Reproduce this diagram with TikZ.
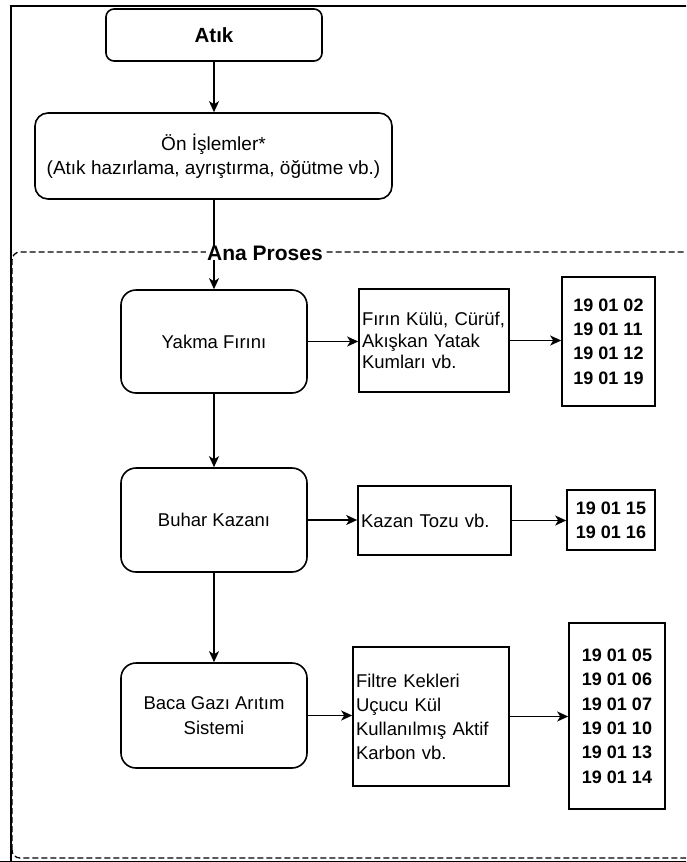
\documentclass[tikz,border=0pt]{standalone}
\usepackage{fontspec}
\setmainfont{Liberation Sans}
\usetikzlibrary{arrows.meta}
\begin{document}
\begin{tikzpicture}[x=1pt,y=-1pt,
  line width=1.6pt,
  proc/.style={draw, line width=1.6pt, align=center, inner sep=0pt, font=\fontsize{18.5}{25}\selectfont},
  wbox/.style={draw, line width=1.6pt, align=left, inner xsep=3pt, inner ysep=0pt, font=\fontsize{18.5}{21.6}\selectfont},
  codebox/.style={draw, line width=1.6pt, align=left, inner sep=0pt, font=\bfseries\fontsize{18}{24.4}\selectfont},
  arr/.style={-{Stealth[length=11pt,width=10pt,inset=3pt]}, line width=1.6pt},
  frame/.style={line width=1.8pt},
  container/.style={rounded corners=8pt, dash pattern=on 6pt off 3pt, line width=1.3pt}
]
\useasboundingbox (0,0) rectangle (686,862);
\clip (0,0) rectangle (686,862);
\fill[white] (0,0) rectangle (686,862);

% outer frame (cropped)
\draw[frame] (11,880) -- (11,6) -- (700,6);
\draw[frame] (0,861.5) -- (700,861.5);

% main process container
\draw[container] (12,858) -- (12,252) -- (720,252) -- (720,858) -- cycle;

% nodes
\node[proc, rounded corners=8pt, minimum width=216pt, minimum height=52pt,
      font=\bfseries\fontsize{20.5}{24}\selectfont] (atik) at (214,35) {Atık};
\node[proc, rounded corners=13pt, minimum width=357pt, minimum height=86pt,
      font=\fontsize{19}{24}\selectfont] (on) at (213.5,156)
      {Ön İşlemler*\\(Atık hazırlama, ayrıştırma, öğütme vb.)};

\node[proc, rounded corners=15pt, minimum width=186pt, minimum height=103pt] (yakma) at (214,341.5) {Yakma Fırını};
\node[wbox, minimum height=103pt, text width=144pt] (firin) at (434,340.5)
      {Fırın Külü, Cürüf,\\Akışkan Yatak\\Kumları vb.};
\node[codebox, minimum width=93pt, minimum height=129pt] (c1) at (608.5,341.5)
      {19 01 02\\19 01 11\\19 01 12\\19 01 19};

\node[proc, rounded corners=15pt, minimum width=186pt, minimum height=104pt] (buhar) at (214,520) {Buhar Kazanı};
\node[wbox, minimum height=69pt, text width=147pt] (kazan) at (434.5,520.5) {Kazan Tozu vb.};
\node[codebox, minimum width=88pt, minimum height=60pt] (c2) at (611,520)
      {19 01 15\\19 01 16};

\node[proc, rounded corners=15pt, minimum width=186pt, minimum height=105pt] (baca) at (214,715.5)
      {Baca Gazı Arıtım\\Sistemi};
\node[wbox, minimum height=139pt, text width=150pt, font=\fontsize{18.5}{24}\selectfont] (filtre) at (431,716.5)
      {Filtre Kekleri\\Uçucu Kül\\Kullanılmış Aktif\\Karbon vb.};
\node[codebox, minimum width=96pt, minimum height=186pt] (c3) at (617,716)
      {19 01 05\\19 01 06\\19 01 07\\19 01 10\\19 01 13\\19 01 14};

% connectors
\draw[arr] (atik.south) -- (atik.south |- on.north);
\draw[arr] (yakma.north |- on.south) -- (yakma.north);
\draw[arr] (yakma.east) -- (yakma.east -| firin.west);
\draw[arr] (firin.east) -- (firin.east -| c1.west);
\draw[arr] (yakma.south) -- (buhar.north);
\draw[arr] (buhar.east) -- (buhar.east -| kazan.west);
\draw[arr] (kazan.east) -- (kazan.east -| c2.west);
\draw[arr] (buhar.south) -- (baca.north);
\draw[arr] (baca.east) -- (baca.east -| filtre.west);
\draw[arr] (filtre.east) -- (filtre.east -| c3.west);

% container label
\node[fill=white, inner xsep=1pt, inner ysep=0pt, font=\bfseries\fontsize{21}{25}\selectfont] (ana) at (265,253) {Ana Proses};
\end{tikzpicture}
\end{document}
